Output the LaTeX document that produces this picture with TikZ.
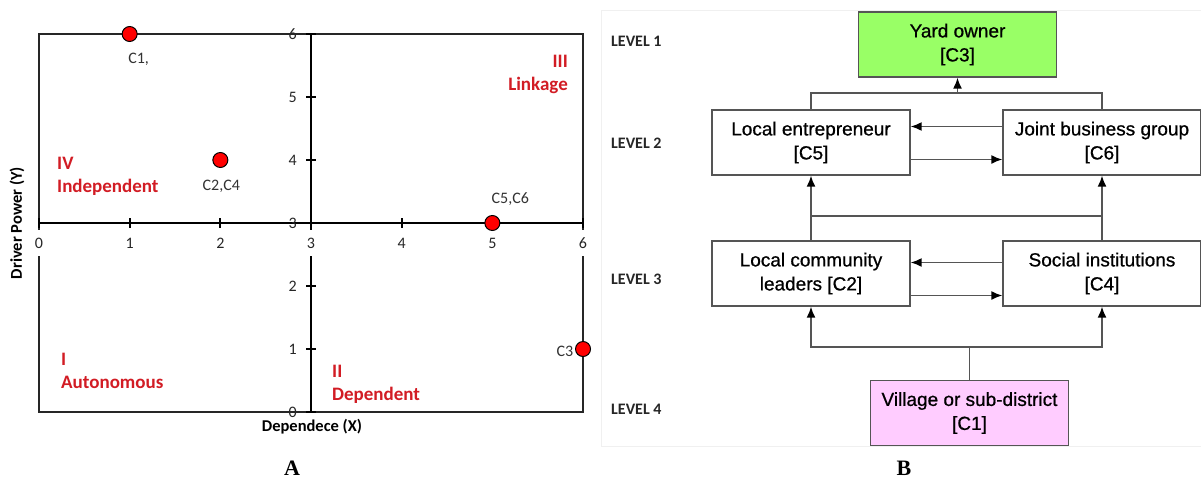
\documentclass[tikz,border=0pt]{standalone}
\usepackage{fontspec}
\setmainfont{Carlito}
\newfontfamily\arialf[FakeBold=0.7]{Liberation Sans}
\newfontfamily\timesf{Liberation Serif}
\usetikzlibrary{arrows.meta}
\definecolor{qred}{RGB}{210,28,36}
\definecolor{boxgreen}{RGB}{153,255,102}
\definecolor{boxpink}{RGB}{255,204,255}
\definecolor{lgray}{RGB}{85,85,85}
\begin{document}
\begin{tikzpicture}[x=1pt,y=-1pt,
  frame/.style={draw=black!85, line width=1.3pt},
  axisline/.style={draw=black, line width=2.6pt},
  tickmark/.style={draw=black, line width=2pt},
  xtick/.style={fill=white, inner sep=2pt, minimum height=26pt, text=black!85, font=\fontsize{16}{18}\selectfont},
  ytick/.style={anchor=east, inner sep=0pt, text=black!85, font=\fontsize{16}{18}\selectfont},
  dot/.style={circle, draw=black, fill=red, line width=1pt, minimum size=15pt, inner sep=0pt},
  ptlabel/.style={inner sep=0pt, text=black!80, font=\fontsize{16}{18}\selectfont},
  quad/.style={text=qred, inner sep=0pt, font=\bfseries\fontsize{19}{23}\selectfont},
  axtitle/.style={inner sep=0pt, font=\bfseries\fontsize{16.5}{18}\selectfont},
  level/.style={anchor=west, inner sep=0pt, text=black!85, font=\bfseries\fontsize{16}{18}\selectfont},
  cbox/.style={draw=lgray, line width=1.3pt, fill=white, minimum width=198pt, minimum height=65pt, inner sep=0pt, align=center, font=\arialf\fontsize{19}{24}\selectfont},
  conn/.style={draw=lgray, line width=1.7pt},
  arr/.style={conn, -{Latex[length=11pt,width=9pt,color=black]}},
  panelletter/.style={inner sep=0pt, font=\timesf\bfseries\fontsize{22}{24}\selectfont}
]
\useasboundingbox (0,0) rectangle (1201,480);
\fill[white] (0,0) rectangle (1201,480);

% ---------------- Panel A ----------------
\begin{scope}[shift={(39,412)}, x=90.67pt, y=63pt]
  \draw[frame] (0,0) rectangle (6,6);
  \draw[axisline] (0,3) -- (6,3);
  \draw[axisline] (3,0) -- (3,6);
  \foreach \i in {0,...,6} {
    \draw[tickmark] ([yshift=5pt]\i,3) -- ([yshift=-5pt]\i,3);
    \draw[tickmark] ([xshift=-5pt]3,\i) -- ([xshift=5pt]3,\i);
  }
  \foreach \i in {0,...,6} {
    \node[xtick] (xl\i) at ([yshift=-20pt]\i,3) {\i};
    \node[ytick] (yl\i) at ([xshift=-14pt]3,\i) {\i};
  }
  \node[dot] (p1) at (1,6) {};
  \node[dot] (p24) at (2,4) {};
  \node[dot] (p56) at (5,3) {};
  \node[dot] (p3) at (6,1) {};
\end{scope}
\node[ptlabel] (l1) at ([xshift=9pt,yshift=-25pt]p1.center) {C1,};
\node[ptlabel] (l24) at ([xshift=1pt,yshift=-26pt]p24.center) {C2,C4};
\node[ptlabel] (l56) at ([xshift=18pt,yshift=24pt]p56.center) {C5,C6};
\node[ptlabel] (l3) at ([xshift=-18pt,yshift=-2pt]p3.center) {C3};

\node[quad, anchor=west, align=left] (q4) at (57,176) {IV\\Independent};
\node[quad, anchor=east, align=right] (q3) at (568,74) {III\\Linkage};
\node[quad, anchor=west, align=left] (q1) at (61,371) {I\\Autonomous};
\node[quad, anchor=west, align=left] (q2) at (332,384) {II\\Dependent};

\node[axtitle, rotate=90] (yt) at (17,223) {Driver Power (Y)};
\node[axtitle] (xt) at (312,427) {Dependece (X)};
\node[panelletter] (la) at (292,468) {A};

% ---------------- Panel B ----------------
\draw[black!6] (601,10) rectangle (1201,446);
\node[level] (lv1) at (611,41) {LEVEL 1};
\node[level] (lv2) at (611,143) {LEVEL 2};
\node[level] (lv3) at (611,279) {LEVEL 3};
\node[level] (lv4) at (611,409) {LEVEL 4};

\node[cbox, fill=boxgreen] (c3) at (957.5,44.5) {Yard owner\\{}[C3]};
\node[cbox] (c5) at (811,142.5) {Local entrepreneur\\{}[C5]};
\node[cbox] (c6) at (1102,142.5) {Joint business group\\{}[C6]};
\node[cbox] (c2) at (811,273.5) {Local community\\leaders [C2]};
\node[cbox] (c4) at (1102,273.5) {Social institutions\\{}[C4]};
\node[cbox, fill=boxpink] (c1) at (969.5,413) {Village or sub-district\\{}[C1]};

\coordinate (tj) at (957.5,93);
\coordinate (mjl) at (811,216);
\coordinate (mjr) at (1102,216);
\coordinate (bj) at (969.5,347);

\draw[conn] (c5.north) |- (tj) -| (c6.north);
\draw[arr] (tj) -- (c3.south);
\draw[arr] ([yshift=16pt]c6.west) -- ([yshift=16pt]c5.east);
\draw[arr] ([yshift=-17pt]c5.east) -- ([yshift=-17pt]c6.west);
\draw[arr] (c2.north) -- (c5.south);
\draw[arr] (c4.north) -- (c6.south);
\draw[conn] (mjl) -- (mjr);
\draw[arr] ([yshift=11pt]c4.west) -- ([yshift=11pt]c2.east);
\draw[arr] ([yshift=-22pt]c2.east) -- ([yshift=-22pt]c4.west);
\draw[conn] (c1.north) -- (bj);
\draw[arr] (bj) -| (c2.south);
\draw[arr] (bj) -| (c4.south);
\node[panelletter] (lb) at (904,468) {B};
\end{tikzpicture}
\end{document}
